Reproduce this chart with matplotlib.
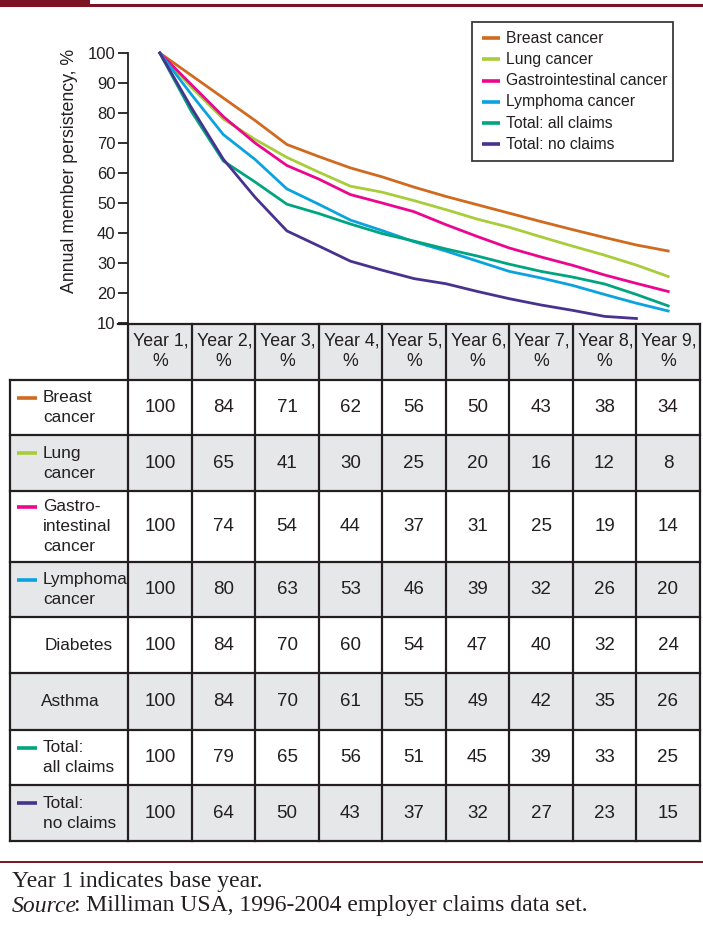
import numpy as np
import matplotlib
matplotlib.use("Agg")
import matplotlib.pyplot as plt
from matplotlib.patches import Rectangle

plt.rcParams['font.family'] = ['Liberation Sans', 'DejaVu Sans']

# --- data -------------------------------------------------------------
years = [1, 2, 3, 4, 5, 6, 7, 8, 9]
half_years = [1, 1.5, 2, 2.5, 3, 3.5, 4, 4.5, 5, 5.5, 6, 6.5, 7, 7.5, 8, 8.5, 9]

series_names = ["Breast cancer", "Lung cancer", "Gastrointestinal cancer",
                "Lymphoma cancer", "Total: all claims", "Total: no claims"]
series_colors = ["#cf6a1f", "#a8cc3a", "#ec068d", "#0aa2df", "#00a580", "#47338f"]

# curves as drawn in the figure (read at half-year steps)
breast_line = [100, 92.5, 85, 77.5, 69.5, 65.5, 61.7, 58.7, 55.3, 52.2, 49.4, 46.6, 43.8, 41.1, 38.5, 36, 34]
lung_line = [100, 88.5, 78, 71.2, 65.2, 60.3, 55.6, 53.6, 50.8, 47.8, 44.6, 41.9, 38.7, 35.6, 32.6, 29.3, 25.5]
gastro_line = [100, 89.4, 78.8, 70, 62.5, 58, 52.8, 50, 47.1, 42.8, 38.8, 35, 32, 29.2, 26, 23.2, 20.5]
lymph_line = [100, 86.1, 72.8, 64.5, 54.7, 49.6, 44.3, 40.8, 37.1, 34, 30.6, 27.2, 25, 22.5, 19.5, 16.6, 14]
all_line = [100, 80.4, 64, 57, 49.6, 46.5, 43, 39.8, 37.3, 34.7, 32.3, 29.6, 27.2, 25.3, 23, 19.5, 15.7]
no_line = [100, 81.7, 64.6, 51.9, 40.7, 35.7, 30.6, 27.6, 24.8, 23.1, 20.5, 18.1, 16, 14.2, 12.2, 11.5, np.nan]

# table
row_labels = [["Breast", "cancer"], ["Lung", "cancer"], ["Gastro-", "intestinal", "cancer"],
              ["Lymphoma", "cancer"], ["Diabetes"], ["Asthma"], ["Total:", "all claims"],
              ["Total:", "no claims"]]
row_swatch = ["#cf6a1f", "#a8cc3a", "#ec068d", "#0aa2df", None, None, "#00a580", "#47338f"]
breast_tbl = [100, 84, 71, 62, 56, 50, 43, 38, 34]
lung_tbl = [100, 65, 41, 30, 25, 20, 16, 12, 8]
gastro_tbl = [100, 74, 54, 44, 37, 31, 25, 19, 14]
lymph_tbl = [100, 80, 63, 53, 46, 39, 32, 26, 20]
diabetes_tbl = [100, 84, 70, 60, 54, 47, 40, 32, 24]
asthma_tbl = [100, 84, 70, 61, 55, 49, 42, 35, 26]
all_tbl = [100, 79, 65, 56, 51, 45, 39, 33, 25]
no_tbl = [100, 64, 50, 43, 37, 32, 27, 23, 15]

W, H = 703, 927
fig = plt.figure(figsize=(W / 100, H / 100), dpi=100)

# --- line chart -------------------------------------------------------
x0, x1 = 128, 700
ytop, ybot = 53, 323
ax = fig.add_axes([x0 / W, 1 - ybot / H, (x1 - x0) / W, (ybot - ytop) / H])
ax.patch.set_alpha(0)
lines = [breast_line, lung_line, gastro_line, lymph_line, all_line, no_line]
for vals, c in zip(lines, series_colors):
    ax.plot(half_years, vals, color=c, lw=2.0, clip_on=False, solid_joinstyle='round')
ax.set_xlim(0.5, 9.5)
ax.set_ylim(10, 100)
ax.set_yticks([10, 20, 30, 40, 50, 60, 70, 80, 90, 100])
ax.set_xticks([])
for s in ["top", "right", "bottom"]:
    ax.spines[s].set_visible(False)
ax.spines["left"].set_color("#231f20")
ax.spines["left"].set_linewidth(1.3)
ax.tick_params(axis="y", direction="out", length=7, width=1.3, color="#231f20",
               labelsize=12, pad=2, labelcolor="#231f20")
ax.set_ylabel("Annual member persistency, %", fontsize=12.8, color="#231f20")
ax.yaxis.set_label_coords(-0.088, 0.563)

# --- overlay for table, legend and decorations ---------------------------
ov = fig.add_axes([0, 0, 1, 1], zorder=3)
ov.patch.set_alpha(0)
ov.set_xlim(0, W)
ov.set_ylim(H, 0)
ov.axis("off")

dark = "#231f20"
gray = "#e6e7e8"
red = "#7d1426"

# top bar
ov.add_patch(Rectangle((0, 0), 90, 5, color=red, lw=0))
ov.plot([0, W], [4.5, 4.5], color=red, lw=2.2)

# legend
ov.add_patch(Rectangle((472, 22), 201, 139, fc="white", ec="#3a3a3a", lw=1.3))
leg_y = [38, 59, 80.5, 101.5, 123, 144]
for name, c, yy in zip(series_names, series_colors, leg_y):
    ov.plot([482, 500], [yy, yy], color=c, lw=2.6, solid_capstyle="butt")
    ov.text(506, yy, name, fontsize=11.3, va="center", ha="left", color=dark)

# table geometry
col_edges = [128, 192, 255, 319, 382, 446, 509, 573, 636, 700]
head_top, head_bot = 324, 380
row_edges = [380, 435, 491, 562, 617, 673, 730, 785, 841]
shaded = [False, True, False, True, False, True, False, True]
tables = [breast_tbl, lung_tbl, gastro_tbl, lymph_tbl, diabetes_tbl, asthma_tbl, all_tbl, no_tbl]
fs = 12.4
fs_num = 13.5
step = 20

ov.add_patch(Rectangle((128, head_top), 572, head_bot - head_top, fc=gray, lw=0))
for i, sh in enumerate(shaded):
    if sh:
        ov.add_patch(Rectangle((10, row_edges[i]), 690, row_edges[i + 1] - row_edges[i], fc=gray, lw=0))

lw_t = 1.6
ov.plot([118, 700], [head_top, head_top], color=dark, lw=lw_t)
for yy in row_edges:
    ov.plot([10, 700], [yy, yy], color=dark, lw=lw_t)
for xx in col_edges:
    ov.plot([xx, xx], [head_top, row_edges[-1]], color=dark, lw=lw_t)
ov.plot([10, 10], [row_edges[0], row_edges[-1]], color=dark, lw=lw_t)

for j, yr in enumerate(years):
    cx = (col_edges[j] + col_edges[j + 1]) / 2
    ov.text(cx + 1, 341, f"Year {yr},", fontsize=12.8, ha="center", va="center", color=dark)
    ov.text(cx, 362, "%", fontsize=12.8, ha="center", va="center", color=dark)

for i, (lab, sw, vals) in enumerate(zip(row_labels, row_swatch, tables)):
    top, bot = row_edges[i], row_edges[i + 1]
    cy = (top + bot) / 2
    n = len(lab)
    if sw is None:
        tx = 45 if lab[0] == "Diabetes" else 41
        ov.text(tx, cy, lab[0], fontsize=fs, ha="left", va="center", color=dark)
    else:
        for k, part in enumerate(lab):
            ov.text(43, cy + (k - (n - 1) / 2) * step, part, fontsize=fs, ha="left",
                    va="center", color=dark)
        first_y = cy - (n - 1) / 2 * step
        ov.plot([17, 37], [first_y, first_y], color=sw, lw=2.6, solid_capstyle="butt")
    for j, v in enumerate(vals):
        cx = (col_edges[j] + col_edges[j + 1]) / 2
        ov.text(cx, cy, str(v), fontsize=fs_num, ha="center", va="center", color=dark)

# footer
ov.plot([0, W], [862, 862], color=red, lw=1.4)
serif = ["Liberation Serif", "DejaVu Serif"]
ov.text(12, 881, "Year 1 indicates base year.", fontsize=17, family=serif, va="center", color=dark)
t = ov.text(12, 906, "Source", fontsize=17, family=serif, style="italic", va="center", color=dark)
ov.annotate(": Milliman USA, 1996-2004 employer claims data set.", xy=(1, 0), xycoords=t,
            xytext=(-2.5, 0), textcoords="offset points",
            fontsize=17, family=serif, va="bottom", ha="left", color=dark)

fig.savefig("out.png", dpi=100)
